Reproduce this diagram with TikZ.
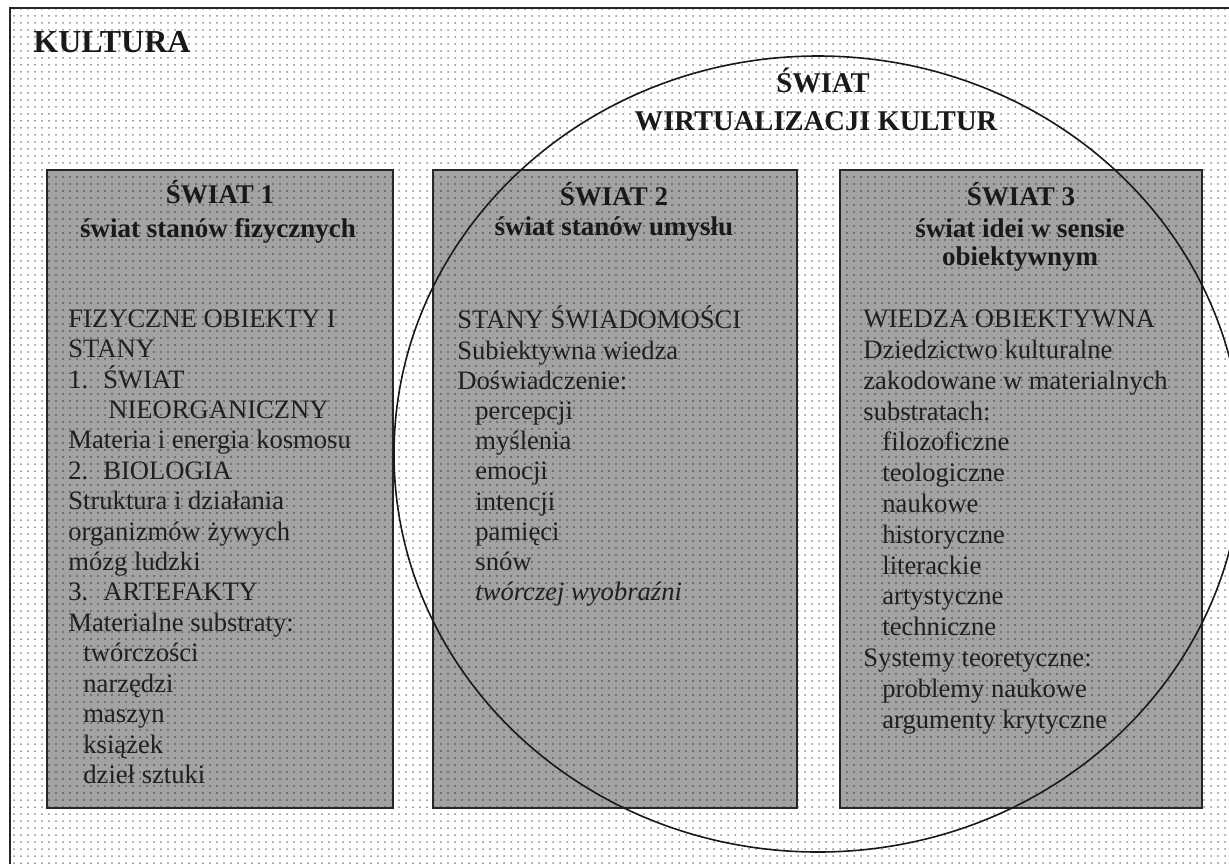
\documentclass[tikz,border=0pt]{standalone}
\usepackage{fontspec}
\setmainfont{Liberation Serif}
\usetikzlibrary{patterns.meta}
\tikzset{
  outerframe/.style={draw=black!85, line width=0.8pt, preaction={fill=white},
    pattern={Dots[distance=3.5pt,radius=0.5pt]}, pattern color=black!45},
  worldbox/.style={draw=black!85, line width=0.8pt, preaction={fill=black!36},
    pattern={Dots[distance=3.5pt,radius=0.55pt]}, pattern color=black!62},
  ring/.style={draw=black!90, line width=0.8pt},
  maintitle/.style={font=\fontsize{16}{18}\selectfont\bfseries, inner sep=0, anchor=base west, text=black!90},
  circtitle/.style={font=\fontsize{14.3}{16}\selectfont\bfseries, inner sep=0, anchor=base, text=black!90},
  boxhead/.style={font=\fontsize{13.5}{15}\selectfont\bfseries, inner sep=0, anchor=base, text=black!90},
  body/.style={font=\fontsize{13.3}{15.2}\selectfont, align=left, inner sep=0, anchor=north west, text=black!88}
}
\begin{document}
\begin{tikzpicture}[x=0.5pt,y=-0.5pt]
\useasboundingbox (0,0) rectangle (1229,863);
\clip (0,0) rectangle (1229,863);
\fill[white] (0,0) rectangle (1229,863);
% outer frame (extends beyond the picture on the right and bottom)
\path[outerframe] (10,8) rectangle (1250,890);
% three worlds
\path[worldbox] (47,170) coordinate (w1nw) rectangle (393,808) coordinate (w1se);
\path[worldbox] (433,170) coordinate (w2nw) rectangle (797,808) coordinate (w2se);
\path[worldbox] (840,170) coordinate (w3nw) rectangle (1202,808) coordinate (w3se);
% circle of virtualisation
\draw[ring] (818,454) ellipse [x radius=424, y radius=398];

% titles
\node[maintitle] (kultura) at (33,52) {KULTURA};
\node[circtitle] (swiat) at (823,92) {ŚWIAT};
\node[circtitle] (wirt) at (816,130) {WIRTUALIZACJI KULTUR};

% box 1
\node[boxhead] (h1a) at (220,203) {ŚWIAT 1};
\node[boxhead] (h1b) at (218,237) {świat stanów fizycznych};
\node[body] (b1) at (68,305.7) {\strut FIZYCZNE OBIEKTY I\\
STANY\\
\makebox[17.5pt][l]{1.}ŚWIAT\\
\hspace*{20pt}NIEORGANICZNY\\
Materia i energia kosmosu\\
\makebox[17.5pt][l]{2.}BIOLOGIA\\
Struktura i działania\\
organizmów żywych\\
mózg ludzki\\
\makebox[17.5pt][l]{3.}ARTEFAKTY\\
Materialne substraty:\\
\hspace*{7.5pt}twórczości\\
\hspace*{7.5pt}narzędzi\\
\hspace*{7.5pt}maszyn\\
\hspace*{7.5pt}książek\\
\hspace*{7.5pt}dzieł sztuki};

% box 2
\node[boxhead] (h2a) at (614,205) {ŚWIAT 2};
\node[boxhead] (h2b) at (614,235) {świat stanów umysłu};
\node[body, font=\fontsize{13.3}{15.1}\selectfont] (b2) at (457,305.7) {\strut STANY ŚWIADOMOŚCI\\
Subiektywna wiedza\\
Doświadczenie:\\
\hspace*{9pt}percepcji\\
\hspace*{9pt}myślenia\\
\hspace*{9pt}emocji\\
\hspace*{9pt}intencji\\
\hspace*{9pt}pamięci\\
\hspace*{9pt}snów\\
\hspace*{9pt}\textit{twórczej wyobraźni}};

% box 3
\node[boxhead] (h3a) at (1021,205) {ŚWIAT 3};
\node[boxhead] (h3b) at (1020,237) {świat idei w sensie};
\node[boxhead] (h3c) at (1020,265) {obiektywnym};
\node[body, font=\fontsize{13.3}{15.4}\selectfont] (b3) at (863,305.7) {\strut WIEDZA OBIEKTYWNA\\
Dziedzictwo kulturalne\\
zakodowane w materialnych\\
substratach:\\
\hspace*{9.5pt}filozoficzne\\
\hspace*{9.5pt}teologiczne\\
\hspace*{9.5pt}naukowe\\
\hspace*{9.5pt}historyczne\\
\hspace*{9.5pt}literackie\\
\hspace*{9.5pt}artystyczne\\
\hspace*{9.5pt}techniczne\\
Systemy teoretyczne:\\
\hspace*{9.5pt}problemy naukowe\\
\hspace*{9.5pt}argumenty krytyczne};
\end{tikzpicture}
\end{document}
